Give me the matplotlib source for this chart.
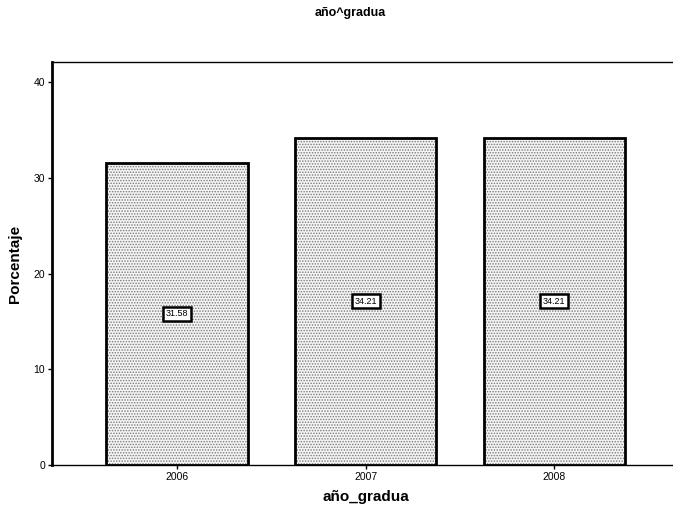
import matplotlib
matplotlib.use("Agg")
import matplotlib.pyplot as plt

plt.rcParams["font.family"] = ["Liberation Sans", "DejaVu Sans"]
plt.rcParams["hatch.linewidth"] = 0.7

years = ["2006", "2007", "2008"]
percent = [31.58, 34.21, 34.21]
bar_labels = ["31.58", "34.21", "34.21"]

fig = plt.figure(figsize=(6.73, 5.14), dpi=100)
ax = fig.add_axes([0.0773, 0.0953, 0.932, 0.784])

x = range(len(years))
# stippled fill, then black outline on top
ax.bar(x, percent, width=0.75, color="#f4f4f4", edgecolor="#7a7a7a",
       hatch="......", linewidth=0, zorder=2)
ax.bar(x, percent, width=0.75, fill=False, edgecolor="black",
       linewidth=2, zorder=3)

for xi, v, lab in zip(x, percent, bar_labels):
    ax.text(xi, v / 2, lab, ha="center", va="center", fontsize=6.5, zorder=4,
            bbox=dict(boxstyle="square,pad=0.3", facecolor="white",
                      edgecolor="black", linewidth=1.8))

ax.set_xlim(-0.663, 2.663)
ax.set_ylim(0, 42.1)
ax.set_yticks([0, 10, 20, 30, 40])
ax.set_xticks(list(x))
ax.set_xticklabels(years)
ax.tick_params(axis="both", labelsize=7.5, length=3, width=1, pad=2)

ax.spines["right"].set_visible(False)
ax.spines["left"].set_linewidth(2)
ax.spines["top"].set_linewidth(1)
ax.spines["bottom"].set_linewidth(1)

ax.set_ylabel("Porcentaje", fontsize=11, fontweight="bold", labelpad=8)
ax.set_xlabel("año_gradua", fontsize=11, fontweight="bold", labelpad=6)
fig.text(0.52, 0.975, "año^gradua", ha="center", va="center",
         fontsize=9, fontweight="bold")

fig.savefig("out.png", dpi=100)
